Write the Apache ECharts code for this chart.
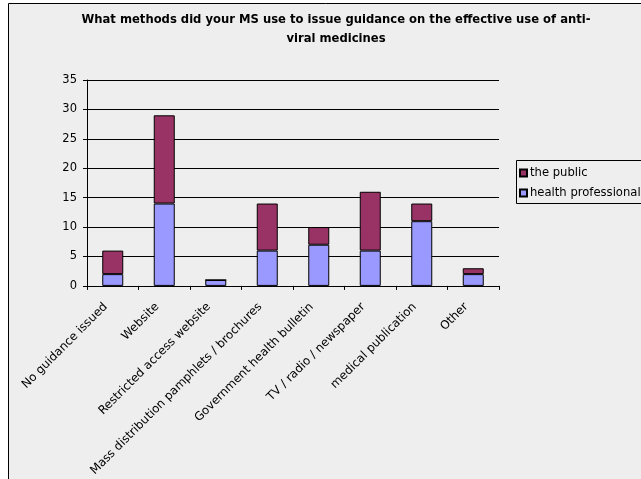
<!DOCTYPE html>
<html>
<head>
<meta charset="utf-8">
<script src="https://cdn.jsdelivr.net/npm/echarts@6/dist/echarts.min.js"></script>
<style>
html,body{margin:0;padding:0;background:#fff;}
#chart{width:641px;height:479px;}
</style>
</head>
<body>
<div id="chart"></div>
<script>
// Survey answers: channels used to issue guidance on anti-viral medicines
const categories = [
  'No guidance issued',
  'Website',
  'Restricted access website',
  'Mass distribution pamphlets / brochures',
  'Government health bulletin',
  'TV / radio / newspaper',
  'medical publication',
  'Other'
];
const healthProfessional = [2, 14, 1, 6, 7, 6, 11, 2];
const thePublic = [4, 15, 0, 8, 3, 10, 3, 1];
const yTicks = { min: 0, max: 35, interval: 5 };

const FONT = 'DejaVu Sans, Verdana, sans-serif';
const chart = echarts.init(document.getElementById('chart'));

chart.setOption({
  animation: false,
  backgroundColor: '#ffffff',
  graphic: [
    {
      // chart-area panel with its frame
      type: 'rect', z: -10,
      shape: { x: 8.5, y: 3.5, width: 700, height: 600 },
      style: { fill: '#eeeeee', stroke: '#000', lineWidth: 1 }
    },
    {
      // legend frame, running past the right edge of the panel
      type: 'rect', z: -5,
      shape: { x: 516.5, y: 160.5, width: 200, height: 43 },
      style: { fill: '#eeeeee', stroke: '#000', lineWidth: 1 }
    }
  ],
  title: {
    text: 'What methods did your MS use to issue guidance on the effective use of anti-\nviral medicines',
    left: 331, top: 5, textAlign: 'center',
    textStyle: { fontFamily: FONT, fontSize: 11.6, fontWeight: 'bold', color: '#000', lineHeight: 19 }
  },
  legend: {
    data: ['the public', 'health professional'],
    orient: 'vertical',
    left: 516, top: 160,
    padding: [7, 0, 6, 3],
    itemGap: 8,
    itemWidth: 7, itemHeight: 7,
    icon: 'rect',
    borderWidth: 0,
    textStyle: { fontFamily: FONT, fontSize: 11.6, color: '#000', padding: [0, 0, 0, -2] }
  },
  grid: { left: 87, right: 142, top: 80, bottom: 193, containLabel: false },
  xAxis: {
    type: 'category',
    data: categories,
    axisLine: { lineStyle: { color: '#000', width: 1 } },
    axisTick: { show: true, alignWithLabel: false, length: 4, lineStyle: { color: '#000' } },
    axisLabel: {
      rotate: 45, interval: 0, margin: 12, padding: [0, 10, 0, 0],
      fontFamily: FONT, fontSize: 11.8, color: '#000'
    }
  },
  yAxis: {
    type: 'value',
    min: yTicks.min, max: yTicks.max, interval: yTicks.interval,
    axisLine: { show: true, lineStyle: { color: '#000', width: 1 } },
    axisTick: { show: true, length: 4, lineStyle: { color: '#000' } },
    axisLabel: { margin: 10, fontFamily: FONT, fontSize: 11.5, color: '#000' },
    splitLine: { show: true, lineStyle: { color: '#000', width: 1 } }
  },
  series: [
    {
      name: 'health professional', type: 'bar', stack: 'total',
      data: healthProfessional, barWidth: 21,
      itemStyle: { color: '#9999ff', borderColor: '#000', borderWidth: 1 }
    },
    {
      name: 'the public', type: 'bar', stack: 'total',
      data: thePublic, barWidth: 21,
      itemStyle: { color: '#993366', borderColor: '#000', borderWidth: 1 }
    }
  ]
});
</script>
</body>
</html>
